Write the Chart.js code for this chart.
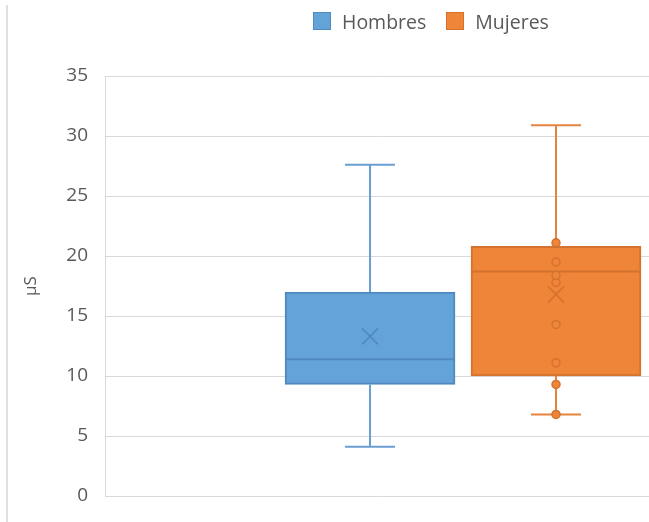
<!DOCTYPE html>
<html>
<head>
<meta charset="utf-8">
<script src="https://cdn.jsdelivr.net/npm/chart.js@4.4.1/dist/chart.umd.min.js"></script>
<style>
  html, body { margin: 0; padding: 0; background: #ffffff; }
  #wrap { position: relative; width: 649px; height: 522px; overflow: hidden; }
  #chart { display: block; position: absolute; left: 0; top: 0; }
  #frame { position: absolute; left: 6px; top: 5px; bottom: 0; width: 0; border-left: 2px solid #e0e0e0; }
  #legend { position: absolute; left: 313px; top: 11px; display: flex; align-items: center;
            font-family: 'Open Sans', sans-serif; font-size: 19.5px; color: #595959; white-space: nowrap; }
  .item { display: flex; align-items: center; margin-right: 20px; height: 20px; }
  .swatch { width: 16px; height: 16px; border: 1px solid; margin-right: 11px; }
</style>
</head>
<body>
<div id="wrap">
  <div id="frame"></div>
  <canvas id="chart" width="649" height="522"></canvas>
  <div id="legend"></div>
</div>
<script>
// Conductivity (µS) distribution by group
const categories   = ['Hombres', 'Mujeres'];
const minValues    = [4.1, 6.8];
const q1Values     = [9.3, 10.0];
const medianValues = [11.4, 18.7];
const q3Values     = [17.0, 20.8];
const maxValues    = [27.6, 30.9];
const meanValues   = [13.3, 16.8];
const innerPoints  = [[], [6.8, 9.3, 11.1, 14.3, 17.8, 18.4, 19.5, 21.1]];

const yTickMin  = 0;
const yTickMax  = 35;
const yTickStep = 5;

const fillColors   = ['#64a3d7', '#ee8539'];
const borderColors = ['#4f89c0', '#d4722f'];
const lineColors   = ['#6a9fd2', '#e5843f'];

// Whiskers, median, mean marker and inner points on top of the IQR bars
const boxWhiskers = {
  id: 'boxWhiskers',
  afterDatasetsDraw(chart) {
    const { ctx, scales: { x, y } } = chart;
    chart.data.datasets.forEach((ds, di) => {
      const i = ds.seriesIndex;
      const bar = chart.getDatasetMeta(di).data[0];
      if (!bar) return;
      const cx = x.getPixelForValue(i);
      const half = bar.width / 2;
      const capHalf = 25;
      ctx.save();
      ctx.lineCap = 'butt';

      // whiskers
      ctx.strokeStyle = lineColors[i];
      ctx.lineWidth = 2;
      ctx.beginPath();
      ctx.moveTo(cx, y.getPixelForValue(q3Values[i]));
      ctx.lineTo(cx, y.getPixelForValue(maxValues[i]));
      ctx.moveTo(cx, y.getPixelForValue(q1Values[i]));
      ctx.lineTo(cx, y.getPixelForValue(minValues[i]));
      ctx.stroke();
      // caps
      ctx.beginPath();
      const yMax = y.getPixelForValue(maxValues[i]);
      const yMin = y.getPixelForValue(minValues[i]);
      ctx.moveTo(cx - capHalf, yMax); ctx.lineTo(cx + capHalf, yMax);
      ctx.moveTo(cx - capHalf, yMin); ctx.lineTo(cx + capHalf, yMin);
      ctx.stroke();

      // median
      ctx.strokeStyle = borderColors[i];
      ctx.lineWidth = 2;
      const yMed = y.getPixelForValue(medianValues[i]);
      ctx.beginPath();
      ctx.moveTo(cx - half + 1, yMed);
      ctx.lineTo(cx + half - 1, yMed);
      ctx.stroke();

      // mean marker
      const yMean = y.getPixelForValue(meanValues[i]);
      const m = 8;
      ctx.lineWidth = 1.5;
      ctx.beginPath();
      ctx.moveTo(cx - m, yMean - m); ctx.lineTo(cx + m, yMean + m);
      ctx.moveTo(cx + m, yMean - m); ctx.lineTo(cx - m, yMean + m);
      ctx.stroke();

      // inner points
      ctx.fillStyle = fillColors[i];
      ctx.lineWidth = 1.5;
      innerPoints[i].forEach(v => {
        ctx.beginPath();
        ctx.arc(cx, y.getPixelForValue(v), 4, 0, Math.PI * 2);
        ctx.fill();
        ctx.stroke();
      });
      ctx.restore();
    });
  }
};

const chart = new Chart(document.getElementById('chart'), {
  type: 'bar',
  data: {
    datasets: categories.map((name, i) => ({
      label: name,
      seriesIndex: i,
      data: [{ x: i, y: [q1Values[i], q3Values[i]] }],
      backgroundColor: fillColors[i],
      borderColor: borderColors[i],
      borderWidth: 2,
      borderSkipped: false,
      grouped: false,
      barThickness: 170
    }))
  },
  options: {
    responsive: false,
    animation: false,
    layout: { padding: { left: 0, top: 76, right: 0, bottom: 26 } },
    plugins: {
      legend: { display: false },
      tooltip: { enabled: false }
    },
    scales: {
      x: {
        type: 'linear',
        min: -1.425,
        max: 1.5,
        offset: false,
        display: false
      },
      y: {
        min: yTickMin,
        max: yTickMax,
        ticks: {
          stepSize: yTickStep,
          color: '#595959',
          padding: 17,
          font: { family: "'Open Sans'", size: 19 }
        },
        grid: { color: '#d9d9d9', lineWidth: 1, drawTicks: false },
        border: { display: true, color: '#d9d9d9', width: 1 },
        title: {
          display: true,
          text: 'µS',
          color: '#595959',
          font: { family: "'Open Sans'", size: 17 },
          padding: { top: 21, bottom: 0 }
        },
        afterFit(scale) {
          scale.width = 105;
          scale.paddingTop = 0;
          scale.paddingBottom = 0;
        }
      }
    }
  },
  plugins: [boxWhiskers]
});

// Legend entries built from the chart's datasets
const legendEl = document.getElementById('legend');
chart.data.datasets.forEach(ds => {
  const item = document.createElement('div');
  item.className = 'item';
  const sw = document.createElement('span');
  sw.className = 'swatch';
  sw.style.background = ds.backgroundColor;
  sw.style.borderColor = ds.borderColor;
  const txt = document.createElement('span');
  txt.textContent = ds.label;
  item.appendChild(sw);
  item.appendChild(txt);
  legendEl.appendChild(item);
});
</script>
</body>
</html>
